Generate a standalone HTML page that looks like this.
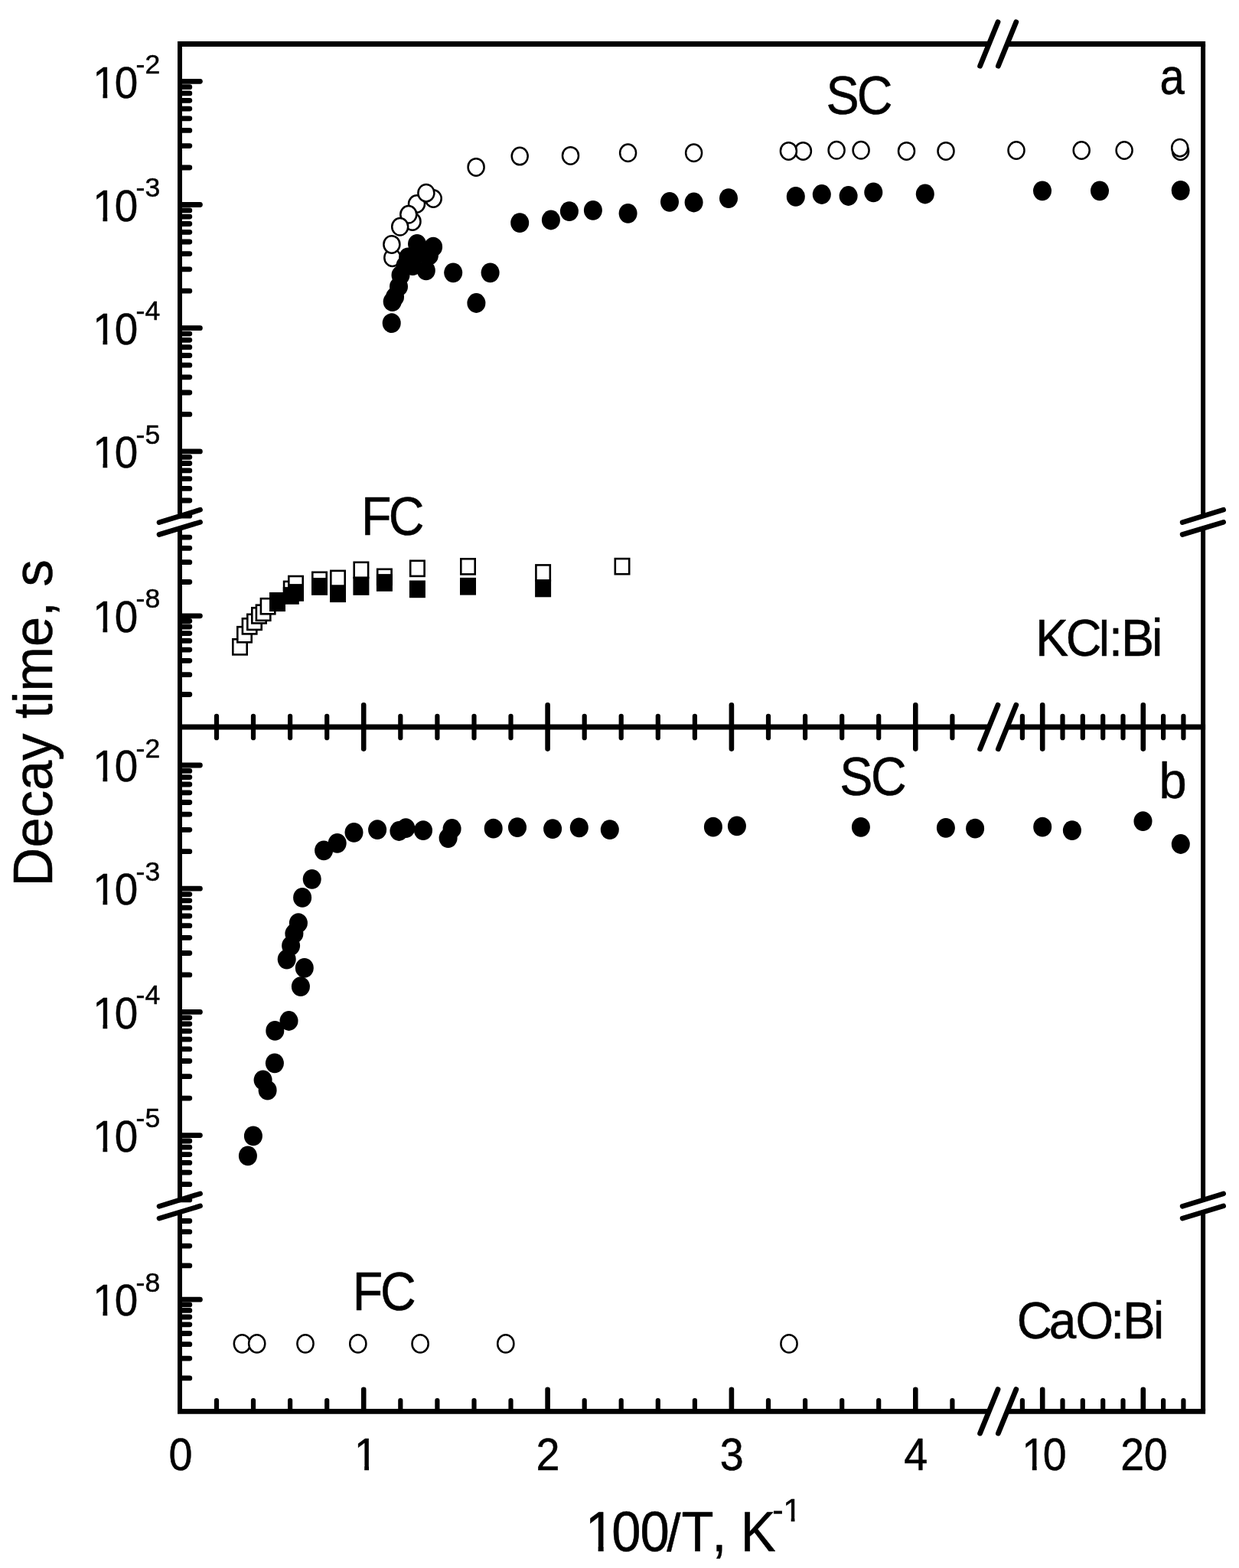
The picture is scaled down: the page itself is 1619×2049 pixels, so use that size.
<!DOCTYPE html>
<html lang="en">
<head>
<meta charset="utf-8">
<title>Decay time vs 100/T</title>
<style>
html,body{margin:0;padding:0;background:#fff;}
body{width:1619px;height:2049px;overflow:hidden;font-family:"Liberation Sans",Arial,sans-serif;}
svg{display:block;}
</style>
</head>
<body>
<svg width="1619" height="2049" viewBox="0 0 1619 2049" role="img" aria-label="Decay time versus 100/T for KCl:Bi and CaO:Bi">
<g fill="#000">
<g id="series-a-sc-open">
<ellipse cx="512.8" cy="336.7" rx="10.50" ry="11.25" fill="#fff" stroke="#000" stroke-width="2.5"/>
<ellipse cx="511.9" cy="319.4" rx="10.50" ry="11.25" fill="#fff" stroke="#000" stroke-width="2.5"/>
<ellipse cx="539.0" cy="289.4" rx="10.50" ry="11.25" fill="#fff" stroke="#000" stroke-width="2.5"/>
<ellipse cx="566.2" cy="259.5" rx="10.50" ry="11.25" fill="#fff" stroke="#000" stroke-width="2.5"/>
<ellipse cx="544.5" cy="266.5" rx="10.50" ry="11.25" fill="#fff" stroke="#000" stroke-width="2.5"/>
<ellipse cx="533.8" cy="280.3" rx="10.50" ry="11.25" fill="#fff" stroke="#000" stroke-width="2.5"/>
<ellipse cx="522.7" cy="296.3" rx="10.50" ry="11.25" fill="#fff" stroke="#000" stroke-width="2.5"/>
<ellipse cx="556.9" cy="252.2" rx="10.50" ry="11.25" fill="#fff" stroke="#000" stroke-width="2.5"/>
<ellipse cx="622.1" cy="218.4" rx="10.50" ry="11.25" fill="#fff" stroke="#000" stroke-width="2.5"/>
<ellipse cx="679.2" cy="204.1" rx="10.50" ry="11.25" fill="#fff" stroke="#000" stroke-width="2.5"/>
<ellipse cx="745.5" cy="203.4" rx="10.50" ry="11.25" fill="#fff" stroke="#000" stroke-width="2.5"/>
<ellipse cx="820.6" cy="199.8" rx="10.50" ry="11.25" fill="#fff" stroke="#000" stroke-width="2.5"/>
<ellipse cx="906.6" cy="199.8" rx="10.50" ry="11.25" fill="#fff" stroke="#000" stroke-width="2.5"/>
<ellipse cx="1049.4" cy="197.4" rx="10.50" ry="11.25" fill="#fff" stroke="#000" stroke-width="2.5"/>
<ellipse cx="1030.4" cy="197.4" rx="10.50" ry="11.25" fill="#fff" stroke="#000" stroke-width="2.5"/>
<ellipse cx="1093.1" cy="196.3" rx="10.50" ry="11.25" fill="#fff" stroke="#000" stroke-width="2.5"/>
<ellipse cx="1125.1" cy="196.3" rx="10.50" ry="11.25" fill="#fff" stroke="#000" stroke-width="2.5"/>
<ellipse cx="1184.5" cy="197.4" rx="10.50" ry="11.25" fill="#fff" stroke="#000" stroke-width="2.5"/>
<ellipse cx="1236.0" cy="197.4" rx="10.50" ry="11.25" fill="#fff" stroke="#000" stroke-width="2.5"/>
<ellipse cx="1328.0" cy="196.5" rx="10.50" ry="11.25" fill="#fff" stroke="#000" stroke-width="2.5"/>
<ellipse cx="1413.2" cy="196.5" rx="10.50" ry="11.25" fill="#fff" stroke="#000" stroke-width="2.5"/>
<ellipse cx="1469.1" cy="196.5" rx="10.50" ry="11.25" fill="#fff" stroke="#000" stroke-width="2.5"/>
<ellipse cx="1542.6" cy="197.7" rx="10.50" ry="11.25" fill="#fff" stroke="#000" stroke-width="2.5"/>
<ellipse cx="1541.7" cy="193.2" rx="10.50" ry="11.25" fill="#fff" stroke="#000" stroke-width="2.5"/>
</g>
<g id="series-a-sc-filled">
<ellipse cx="511.7" cy="422.2" rx="12.0" ry="12.9"/>
<ellipse cx="512.7" cy="394.2" rx="12.0" ry="12.9"/>
<ellipse cx="516.0" cy="388.0" rx="12.0" ry="12.9"/>
<ellipse cx="521.0" cy="374.5" rx="12.0" ry="12.9"/>
<ellipse cx="523.5" cy="359.6" rx="12.0" ry="12.9"/>
<ellipse cx="529.5" cy="347.0" rx="12.0" ry="12.9"/>
<ellipse cx="533.2" cy="336.3" rx="12.0" ry="12.9"/>
<ellipse cx="545.0" cy="318.8" rx="12.0" ry="12.9"/>
<ellipse cx="566.1" cy="322.7" rx="12.0" ry="12.9"/>
<ellipse cx="556.8" cy="353.4" rx="12.0" ry="12.9"/>
<ellipse cx="560.9" cy="333.7" rx="12.0" ry="12.9"/>
<ellipse cx="539.3" cy="347.2" rx="12.0" ry="12.9"/>
<ellipse cx="550.0" cy="330.0" rx="12.0" ry="12.9"/>
<ellipse cx="592.2" cy="356.3" rx="12.0" ry="12.9"/>
<ellipse cx="640.6" cy="356.3" rx="12.0" ry="12.9"/>
<ellipse cx="622.4" cy="396.0" rx="12.0" ry="12.9"/>
<ellipse cx="679.2" cy="291.1" rx="12.0" ry="12.9"/>
<ellipse cx="719.9" cy="287.5" rx="12.0" ry="12.9"/>
<ellipse cx="743.9" cy="276.1" rx="12.0" ry="12.9"/>
<ellipse cx="774.9" cy="274.8" rx="12.0" ry="12.9"/>
<ellipse cx="820.6" cy="278.8" rx="12.0" ry="12.9"/>
<ellipse cx="875.0" cy="263.8" rx="12.0" ry="12.9"/>
<ellipse cx="906.6" cy="264.5" rx="12.0" ry="12.9"/>
<ellipse cx="952.0" cy="259.1" rx="12.0" ry="12.9"/>
<ellipse cx="1039.8" cy="256.9" rx="12.0" ry="12.9"/>
<ellipse cx="1073.8" cy="254.0" rx="12.0" ry="12.9"/>
<ellipse cx="1108.6" cy="256.0" rx="12.0" ry="12.9"/>
<ellipse cx="1141.3" cy="251.4" rx="12.0" ry="12.9"/>
<ellipse cx="1208.8" cy="253.5" rx="12.0" ry="12.9"/>
<ellipse cx="1362.0" cy="249.3" rx="12.0" ry="12.9"/>
<ellipse cx="1437.0" cy="249.3" rx="12.0" ry="12.9"/>
<ellipse cx="1542.7" cy="248.8" rx="12.0" ry="12.9"/>
</g>
<g id="series-a-fc-open">
<rect x="304.3" y="835.3" width="18.4" height="20.1" fill="#fff" stroke="#000" stroke-width="2.6"/>
<rect x="310.3" y="819.2" width="18.4" height="20.1" fill="#fff" stroke="#000" stroke-width="2.6"/>
<rect x="316.9" y="808.3" width="18.4" height="20.1" fill="#fff" stroke="#000" stroke-width="2.6"/>
<rect x="323.3" y="802.8" width="18.4" height="20.1" fill="#fff" stroke="#000" stroke-width="2.6"/>
<rect x="329.3" y="794.3" width="18.4" height="20.1" fill="#fff" stroke="#000" stroke-width="2.6"/>
<rect x="334.9" y="790.7" width="18.4" height="20.1" fill="#fff" stroke="#000" stroke-width="2.6"/>
<rect x="340.9" y="782.2" width="18.4" height="20.1" fill="#fff" stroke="#000" stroke-width="2.6"/>
<rect x="371.1" y="759.9" width="18.4" height="20.1" fill="#fff" stroke="#000" stroke-width="2.6"/>
<rect x="377.3" y="753.0" width="18.4" height="20.1" fill="#fff" stroke="#000" stroke-width="2.6"/>
<rect x="408.3" y="747.8" width="18.4" height="20.1" fill="#fff" stroke="#000" stroke-width="2.6"/>
<rect x="432.3" y="745.9" width="18.4" height="20.1" fill="#fff" stroke="#000" stroke-width="2.6"/>
<rect x="462.7" y="734.8" width="18.4" height="20.1" fill="#fff" stroke="#000" stroke-width="2.6"/>
<rect x="493.2" y="743.8" width="18.4" height="20.1" fill="#fff" stroke="#000" stroke-width="2.6"/>
<rect x="536.2" y="732.8" width="18.4" height="20.1" fill="#fff" stroke="#000" stroke-width="2.6"/>
<rect x="602.3" y="730.3" width="18.4" height="20.1" fill="#fff" stroke="#000" stroke-width="2.6"/>
<rect x="700.4" y="738.4" width="18.4" height="20.1" fill="#fff" stroke="#000" stroke-width="2.6"/>
<rect x="803.8" y="730.1" width="18.4" height="20.1" fill="#fff" stroke="#000" stroke-width="2.6"/>
</g>
<g id="series-a-fc-filled">
<rect x="352.0" y="774.0" width="21.0" height="25.1"/>
<rect x="369.8" y="767.1" width="21.0" height="22.7"/>
<rect x="376.0" y="763.1" width="21.0" height="22.7"/>
<rect x="407.0" y="755.1" width="21.0" height="22.7"/>
<rect x="431.0" y="764.4" width="21.0" height="22.7"/>
<rect x="461.4" y="753.8" width="21.0" height="24.0"/>
<rect x="491.9" y="750.1" width="21.0" height="22.7"/>
<rect x="534.9" y="758.5" width="21.0" height="22.7"/>
<rect x="601.0" y="754.9" width="21.0" height="22.7"/>
<rect x="699.1" y="757.6" width="21.0" height="22.7"/>
</g>
<g id="series-b-sc-filled">
<ellipse cx="323.9" cy="1510.4" rx="12.0" ry="12.9"/>
<ellipse cx="330.9" cy="1484.4" rx="12.0" ry="12.9"/>
<ellipse cx="349.6" cy="1424.7" rx="12.0" ry="12.9"/>
<ellipse cx="343.6" cy="1411.3" rx="12.0" ry="12.9"/>
<ellipse cx="358.9" cy="1389.3" rx="12.0" ry="12.9"/>
<ellipse cx="359.3" cy="1346.9" rx="12.0" ry="12.9"/>
<ellipse cx="377.5" cy="1334.0" rx="12.0" ry="12.9"/>
<ellipse cx="392.9" cy="1289.2" rx="12.0" ry="12.9"/>
<ellipse cx="397.8" cy="1264.9" rx="12.0" ry="12.9"/>
<ellipse cx="374.7" cy="1253.6" rx="12.0" ry="12.9"/>
<ellipse cx="380.1" cy="1235.8" rx="12.0" ry="12.9"/>
<ellipse cx="384.4" cy="1220.0" rx="12.0" ry="12.9"/>
<ellipse cx="389.9" cy="1206.2" rx="12.0" ry="12.9"/>
<ellipse cx="395.1" cy="1172.9" rx="12.0" ry="12.9"/>
<ellipse cx="407.7" cy="1148.8" rx="12.0" ry="12.9"/>
<ellipse cx="423.1" cy="1111.3" rx="12.0" ry="12.9"/>
<ellipse cx="440.7" cy="1101.8" rx="12.0" ry="12.9"/>
<ellipse cx="462.5" cy="1087.8" rx="12.0" ry="12.9"/>
<ellipse cx="493.1" cy="1084.2" rx="12.0" ry="12.9"/>
<ellipse cx="521.4" cy="1086.0" rx="12.0" ry="12.9"/>
<ellipse cx="530.3" cy="1082.2" rx="12.0" ry="12.9"/>
<ellipse cx="553.0" cy="1085.2" rx="12.0" ry="12.9"/>
<ellipse cx="585.6" cy="1095.1" rx="12.0" ry="12.9"/>
<ellipse cx="590.6" cy="1083.0" rx="12.0" ry="12.9"/>
<ellipse cx="644.7" cy="1082.7" rx="12.0" ry="12.9"/>
<ellipse cx="676.0" cy="1081.1" rx="12.0" ry="12.9"/>
<ellipse cx="722.1" cy="1083.1" rx="12.0" ry="12.9"/>
<ellipse cx="756.8" cy="1081.4" rx="12.0" ry="12.9"/>
<ellipse cx="796.8" cy="1084.1" rx="12.0" ry="12.9"/>
<ellipse cx="931.9" cy="1080.7" rx="12.0" ry="12.9"/>
<ellipse cx="962.9" cy="1079.4" rx="12.0" ry="12.9"/>
<ellipse cx="1124.9" cy="1080.8" rx="12.0" ry="12.9"/>
<ellipse cx="1235.9" cy="1081.8" rx="12.0" ry="12.9"/>
<ellipse cx="1274.1" cy="1082.7" rx="12.0" ry="12.9"/>
<ellipse cx="1362.2" cy="1080.7" rx="12.0" ry="12.9"/>
<ellipse cx="1400.9" cy="1085.1" rx="12.0" ry="12.9"/>
<ellipse cx="1493.5" cy="1073.2" rx="12.0" ry="12.9"/>
<ellipse cx="1542.8" cy="1103.0" rx="12.0" ry="12.9"/>
</g>
<g id="series-b-fc-open">
<ellipse cx="316.4" cy="1755.8" rx="10.60" ry="11.65" fill="#fff" stroke="#000" stroke-width="2.5"/>
<ellipse cx="335.7" cy="1755.8" rx="10.60" ry="11.65" fill="#fff" stroke="#000" stroke-width="2.5"/>
<ellipse cx="399.0" cy="1755.8" rx="10.60" ry="11.65" fill="#fff" stroke="#000" stroke-width="2.5"/>
<ellipse cx="467.8" cy="1755.9" rx="10.60" ry="11.65" fill="#fff" stroke="#000" stroke-width="2.5"/>
<ellipse cx="549.1" cy="1755.9" rx="10.60" ry="11.65" fill="#fff" stroke="#000" stroke-width="2.5"/>
<ellipse cx="660.8" cy="1755.9" rx="10.60" ry="11.65" fill="#fff" stroke="#000" stroke-width="2.5"/>
<ellipse cx="1031.0" cy="1755.9" rx="10.60" ry="11.65" fill="#fff" stroke="#000" stroke-width="2.5"/>
</g>
<g id="axes" stroke="#000" fill="none">
<line x1="232.0" y1="57.5" x2="1292.2" y2="57.5" stroke-width="6.8"/>
<line x1="1316.2" y1="57.5" x2="1575.1" y2="57.5" stroke-width="6.8"/>
<line x1="232.0" y1="950.0" x2="1292.2" y2="950.0" stroke-width="6.8"/>
<line x1="1316.2" y1="950.0" x2="1575.1" y2="950.0" stroke-width="6.8"/>
<line x1="232.0" y1="1844.3" x2="1292.2" y2="1844.3" stroke-width="6.8"/>
<line x1="1316.2" y1="1844.3" x2="1575.1" y2="1844.3" stroke-width="6.8"/>
<line x1="235.0" y1="57.5" x2="235.0" y2="674.4" stroke-width="6.0"/>
<line x1="235.0" y1="690.4" x2="235.0" y2="950.0" stroke-width="6.0"/>
<line x1="1572.1" y1="57.5" x2="1572.1" y2="674.4" stroke-width="6.0"/>
<line x1="1572.1" y1="690.4" x2="1572.1" y2="950.0" stroke-width="6.0"/>
<line x1="235.0" y1="950.0" x2="235.0" y2="1568.0" stroke-width="6.0"/>
<line x1="235.0" y1="1584.0" x2="235.0" y2="1844.3" stroke-width="6.0"/>
<line x1="1572.1" y1="950.0" x2="1572.1" y2="1568.0" stroke-width="6.0"/>
<line x1="1572.1" y1="1584.0" x2="1572.1" y2="1844.3" stroke-width="6.0"/>
<line x1="1280.6" y1="86.2" x2="1304.0" y2="28.8" stroke-width="6.8" stroke-linecap="round"/>
<line x1="1304.4" y1="86.2" x2="1327.8" y2="28.8" stroke-width="6.8" stroke-linecap="round"/>
<line x1="1280.6" y1="978.7" x2="1304.0" y2="921.3" stroke-width="6.8" stroke-linecap="round"/>
<line x1="1304.4" y1="978.7" x2="1327.8" y2="921.3" stroke-width="6.8" stroke-linecap="round"/>
<line x1="1280.6" y1="1873.0" x2="1304.0" y2="1815.6" stroke-width="6.8" stroke-linecap="round"/>
<line x1="1304.4" y1="1873.0" x2="1327.8" y2="1815.6" stroke-width="6.8" stroke-linecap="round"/>
<line x1="208.0" y1="682.7" x2="261.6" y2="666.2" stroke-width="6.6" stroke-linecap="round"/>
<line x1="208.0" y1="698.5" x2="261.6" y2="682.3" stroke-width="6.6" stroke-linecap="round"/>
<line x1="1545.1" y1="682.7" x2="1598.7" y2="666.2" stroke-width="6.6" stroke-linecap="round"/>
<line x1="1545.1" y1="698.5" x2="1598.7" y2="682.3" stroke-width="6.6" stroke-linecap="round"/>
<line x1="208.0" y1="1576.3" x2="261.6" y2="1559.8" stroke-width="6.6" stroke-linecap="round"/>
<line x1="208.0" y1="1592.1" x2="261.6" y2="1575.9" stroke-width="6.6" stroke-linecap="round"/>
<line x1="1545.1" y1="1576.3" x2="1598.7" y2="1559.8" stroke-width="6.6" stroke-linecap="round"/>
<line x1="1545.1" y1="1592.1" x2="1598.7" y2="1575.9" stroke-width="6.6" stroke-linecap="round"/>
</g>
<g id="ticks" stroke="#000" stroke-linecap="round">
<line x1="235.6" y1="106.3" x2="261.4" y2="106.3" stroke-width="6.8" stroke-linecap="inherit"/>
<line x1="235.6" y1="267.5" x2="261.4" y2="267.5" stroke-width="6.8" stroke-linecap="inherit"/>
<line x1="235.6" y1="219.0" x2="247.8" y2="219.0" stroke-width="6.8" stroke-linecap="inherit"/>
<line x1="235.6" y1="190.6" x2="247.8" y2="190.6" stroke-width="6.8" stroke-linecap="inherit"/>
<line x1="235.6" y1="170.4" x2="247.8" y2="170.4" stroke-width="6.8" stroke-linecap="inherit"/>
<line x1="235.6" y1="154.8" x2="247.8" y2="154.8" stroke-width="6.8" stroke-linecap="inherit"/>
<line x1="235.6" y1="142.1" x2="247.8" y2="142.1" stroke-width="6.8" stroke-linecap="inherit"/>
<line x1="235.6" y1="131.3" x2="247.8" y2="131.3" stroke-width="6.8" stroke-linecap="inherit"/>
<line x1="235.6" y1="121.9" x2="247.8" y2="121.9" stroke-width="6.8" stroke-linecap="inherit"/>
<line x1="235.6" y1="113.7" x2="247.8" y2="113.7" stroke-width="6.8" stroke-linecap="inherit"/>
<line x1="235.6" y1="428.7" x2="261.4" y2="428.7" stroke-width="6.8" stroke-linecap="inherit"/>
<line x1="235.6" y1="380.2" x2="247.8" y2="380.2" stroke-width="6.8" stroke-linecap="inherit"/>
<line x1="235.6" y1="351.8" x2="247.8" y2="351.8" stroke-width="6.8" stroke-linecap="inherit"/>
<line x1="235.6" y1="331.6" x2="247.8" y2="331.6" stroke-width="6.8" stroke-linecap="inherit"/>
<line x1="235.6" y1="316.0" x2="247.8" y2="316.0" stroke-width="6.8" stroke-linecap="inherit"/>
<line x1="235.6" y1="303.3" x2="247.8" y2="303.3" stroke-width="6.8" stroke-linecap="inherit"/>
<line x1="235.6" y1="292.5" x2="247.8" y2="292.5" stroke-width="6.8" stroke-linecap="inherit"/>
<line x1="235.6" y1="283.1" x2="247.8" y2="283.1" stroke-width="6.8" stroke-linecap="inherit"/>
<line x1="235.6" y1="274.9" x2="247.8" y2="274.9" stroke-width="6.8" stroke-linecap="inherit"/>
<line x1="235.6" y1="589.9" x2="261.4" y2="589.9" stroke-width="6.8" stroke-linecap="inherit"/>
<line x1="235.6" y1="541.4" x2="247.8" y2="541.4" stroke-width="6.8" stroke-linecap="inherit"/>
<line x1="235.6" y1="513.0" x2="247.8" y2="513.0" stroke-width="6.8" stroke-linecap="inherit"/>
<line x1="235.6" y1="492.8" x2="247.8" y2="492.8" stroke-width="6.8" stroke-linecap="inherit"/>
<line x1="235.6" y1="477.2" x2="247.8" y2="477.2" stroke-width="6.8" stroke-linecap="inherit"/>
<line x1="235.6" y1="464.5" x2="247.8" y2="464.5" stroke-width="6.8" stroke-linecap="inherit"/>
<line x1="235.6" y1="453.7" x2="247.8" y2="453.7" stroke-width="6.8" stroke-linecap="inherit"/>
<line x1="235.6" y1="444.3" x2="247.8" y2="444.3" stroke-width="6.8" stroke-linecap="inherit"/>
<line x1="235.6" y1="436.1" x2="247.8" y2="436.1" stroke-width="6.8" stroke-linecap="inherit"/>
<line x1="235.6" y1="674.2" x2="247.8" y2="674.2" stroke-width="6.8" stroke-linecap="inherit"/>
<line x1="235.6" y1="654.0" x2="247.8" y2="654.0" stroke-width="6.8" stroke-linecap="inherit"/>
<line x1="235.6" y1="638.4" x2="247.8" y2="638.4" stroke-width="6.8" stroke-linecap="inherit"/>
<line x1="235.6" y1="625.7" x2="247.8" y2="625.7" stroke-width="6.8" stroke-linecap="inherit"/>
<line x1="235.6" y1="614.9" x2="247.8" y2="614.9" stroke-width="6.8" stroke-linecap="inherit"/>
<line x1="235.6" y1="605.5" x2="247.8" y2="605.5" stroke-width="6.8" stroke-linecap="inherit"/>
<line x1="235.6" y1="597.3" x2="247.8" y2="597.3" stroke-width="6.8" stroke-linecap="inherit"/>
<line x1="235.6" y1="804.8" x2="261.4" y2="804.8" stroke-width="6.8" stroke-linecap="inherit"/>
<line x1="235.6" y1="760.5" x2="247.8" y2="760.5" stroke-width="6.8" stroke-linecap="inherit"/>
<line x1="235.6" y1="734.7" x2="247.8" y2="734.7" stroke-width="6.8" stroke-linecap="inherit"/>
<line x1="235.6" y1="716.3" x2="247.8" y2="716.3" stroke-width="6.8" stroke-linecap="inherit"/>
<line x1="235.6" y1="702.1" x2="247.8" y2="702.1" stroke-width="6.8" stroke-linecap="inherit"/>
<line x1="235.6" y1="907.5" x2="247.8" y2="907.5" stroke-width="6.8" stroke-linecap="inherit"/>
<line x1="235.6" y1="881.7" x2="247.8" y2="881.7" stroke-width="6.8" stroke-linecap="inherit"/>
<line x1="235.6" y1="863.3" x2="247.8" y2="863.3" stroke-width="6.8" stroke-linecap="inherit"/>
<line x1="235.6" y1="849.1" x2="247.8" y2="849.1" stroke-width="6.8" stroke-linecap="inherit"/>
<line x1="235.6" y1="837.4" x2="247.8" y2="837.4" stroke-width="6.8" stroke-linecap="inherit"/>
<line x1="235.6" y1="827.6" x2="247.8" y2="827.6" stroke-width="6.8" stroke-linecap="inherit"/>
<line x1="235.6" y1="819.0" x2="247.8" y2="819.0" stroke-width="6.8" stroke-linecap="inherit"/>
<line x1="235.6" y1="811.5" x2="247.8" y2="811.5" stroke-width="6.8" stroke-linecap="inherit"/>
<line x1="235.6" y1="1000.0" x2="261.4" y2="1000.0" stroke-width="6.8" stroke-linecap="inherit"/>
<line x1="235.6" y1="1161.2" x2="261.4" y2="1161.2" stroke-width="6.8" stroke-linecap="inherit"/>
<line x1="235.6" y1="1112.7" x2="247.8" y2="1112.7" stroke-width="6.8" stroke-linecap="inherit"/>
<line x1="235.6" y1="1084.3" x2="247.8" y2="1084.3" stroke-width="6.8" stroke-linecap="inherit"/>
<line x1="235.6" y1="1064.1" x2="247.8" y2="1064.1" stroke-width="6.8" stroke-linecap="inherit"/>
<line x1="235.6" y1="1048.5" x2="247.8" y2="1048.5" stroke-width="6.8" stroke-linecap="inherit"/>
<line x1="235.6" y1="1035.8" x2="247.8" y2="1035.8" stroke-width="6.8" stroke-linecap="inherit"/>
<line x1="235.6" y1="1025.0" x2="247.8" y2="1025.0" stroke-width="6.8" stroke-linecap="inherit"/>
<line x1="235.6" y1="1015.6" x2="247.8" y2="1015.6" stroke-width="6.8" stroke-linecap="inherit"/>
<line x1="235.6" y1="1007.4" x2="247.8" y2="1007.4" stroke-width="6.8" stroke-linecap="inherit"/>
<line x1="235.6" y1="1322.4" x2="261.4" y2="1322.4" stroke-width="6.8" stroke-linecap="inherit"/>
<line x1="235.6" y1="1273.9" x2="247.8" y2="1273.9" stroke-width="6.8" stroke-linecap="inherit"/>
<line x1="235.6" y1="1245.5" x2="247.8" y2="1245.5" stroke-width="6.8" stroke-linecap="inherit"/>
<line x1="235.6" y1="1225.3" x2="247.8" y2="1225.3" stroke-width="6.8" stroke-linecap="inherit"/>
<line x1="235.6" y1="1209.7" x2="247.8" y2="1209.7" stroke-width="6.8" stroke-linecap="inherit"/>
<line x1="235.6" y1="1197.0" x2="247.8" y2="1197.0" stroke-width="6.8" stroke-linecap="inherit"/>
<line x1="235.6" y1="1186.2" x2="247.8" y2="1186.2" stroke-width="6.8" stroke-linecap="inherit"/>
<line x1="235.6" y1="1176.8" x2="247.8" y2="1176.8" stroke-width="6.8" stroke-linecap="inherit"/>
<line x1="235.6" y1="1168.6" x2="247.8" y2="1168.6" stroke-width="6.8" stroke-linecap="inherit"/>
<line x1="235.6" y1="1483.6" x2="261.4" y2="1483.6" stroke-width="6.8" stroke-linecap="inherit"/>
<line x1="235.6" y1="1435.1" x2="247.8" y2="1435.1" stroke-width="6.8" stroke-linecap="inherit"/>
<line x1="235.6" y1="1406.7" x2="247.8" y2="1406.7" stroke-width="6.8" stroke-linecap="inherit"/>
<line x1="235.6" y1="1386.5" x2="247.8" y2="1386.5" stroke-width="6.8" stroke-linecap="inherit"/>
<line x1="235.6" y1="1370.9" x2="247.8" y2="1370.9" stroke-width="6.8" stroke-linecap="inherit"/>
<line x1="235.6" y1="1358.2" x2="247.8" y2="1358.2" stroke-width="6.8" stroke-linecap="inherit"/>
<line x1="235.6" y1="1347.4" x2="247.8" y2="1347.4" stroke-width="6.8" stroke-linecap="inherit"/>
<line x1="235.6" y1="1338.0" x2="247.8" y2="1338.0" stroke-width="6.8" stroke-linecap="inherit"/>
<line x1="235.6" y1="1329.8" x2="247.8" y2="1329.8" stroke-width="6.8" stroke-linecap="inherit"/>
<line x1="235.6" y1="1567.9" x2="247.8" y2="1567.9" stroke-width="6.8" stroke-linecap="inherit"/>
<line x1="235.6" y1="1547.7" x2="247.8" y2="1547.7" stroke-width="6.8" stroke-linecap="inherit"/>
<line x1="235.6" y1="1532.1" x2="247.8" y2="1532.1" stroke-width="6.8" stroke-linecap="inherit"/>
<line x1="235.6" y1="1519.4" x2="247.8" y2="1519.4" stroke-width="6.8" stroke-linecap="inherit"/>
<line x1="235.6" y1="1508.6" x2="247.8" y2="1508.6" stroke-width="6.8" stroke-linecap="inherit"/>
<line x1="235.6" y1="1499.2" x2="247.8" y2="1499.2" stroke-width="6.8" stroke-linecap="inherit"/>
<line x1="235.6" y1="1491.0" x2="247.8" y2="1491.0" stroke-width="6.8" stroke-linecap="inherit"/>
<line x1="235.6" y1="1698.2" x2="261.4" y2="1698.2" stroke-width="6.8" stroke-linecap="inherit"/>
<line x1="235.6" y1="1653.9" x2="247.8" y2="1653.9" stroke-width="6.8" stroke-linecap="inherit"/>
<line x1="235.6" y1="1628.1" x2="247.8" y2="1628.1" stroke-width="6.8" stroke-linecap="inherit"/>
<line x1="235.6" y1="1609.7" x2="247.8" y2="1609.7" stroke-width="6.8" stroke-linecap="inherit"/>
<line x1="235.6" y1="1595.5" x2="247.8" y2="1595.5" stroke-width="6.8" stroke-linecap="inherit"/>
<line x1="235.6" y1="1800.9" x2="247.8" y2="1800.9" stroke-width="6.8" stroke-linecap="inherit"/>
<line x1="235.6" y1="1775.1" x2="247.8" y2="1775.1" stroke-width="6.8" stroke-linecap="inherit"/>
<line x1="235.6" y1="1756.7" x2="247.8" y2="1756.7" stroke-width="6.8" stroke-linecap="inherit"/>
<line x1="235.6" y1="1742.5" x2="247.8" y2="1742.5" stroke-width="6.8" stroke-linecap="inherit"/>
<line x1="235.6" y1="1730.8" x2="247.8" y2="1730.8" stroke-width="6.8" stroke-linecap="inherit"/>
<line x1="235.6" y1="1721.0" x2="247.8" y2="1721.0" stroke-width="6.8" stroke-linecap="inherit"/>
<line x1="235.6" y1="1712.4" x2="247.8" y2="1712.4" stroke-width="6.8" stroke-linecap="inherit"/>
<line x1="235.6" y1="1704.9" x2="247.8" y2="1704.9" stroke-width="6.8" stroke-linecap="inherit"/>
<line x1="283.0" y1="935.8" x2="283.0" y2="964.2" stroke-width="6.2" stroke-linecap="inherit"/>
<line x1="331.0" y1="935.8" x2="331.0" y2="964.2" stroke-width="6.2" stroke-linecap="inherit"/>
<line x1="379.1" y1="935.8" x2="379.1" y2="964.2" stroke-width="6.2" stroke-linecap="inherit"/>
<line x1="427.2" y1="935.8" x2="427.2" y2="964.2" stroke-width="6.2" stroke-linecap="inherit"/>
<line x1="475.2" y1="921.4" x2="475.2" y2="978.6" stroke-width="6.6" stroke-linecap="inherit"/>
<line x1="523.3" y1="935.8" x2="523.3" y2="964.2" stroke-width="6.2" stroke-linecap="inherit"/>
<line x1="571.4" y1="935.8" x2="571.4" y2="964.2" stroke-width="6.2" stroke-linecap="inherit"/>
<line x1="619.5" y1="935.8" x2="619.5" y2="964.2" stroke-width="6.2" stroke-linecap="inherit"/>
<line x1="667.5" y1="935.8" x2="667.5" y2="964.2" stroke-width="6.2" stroke-linecap="inherit"/>
<line x1="715.6" y1="921.4" x2="715.6" y2="978.6" stroke-width="6.6" stroke-linecap="inherit"/>
<line x1="763.7" y1="935.8" x2="763.7" y2="964.2" stroke-width="6.2" stroke-linecap="inherit"/>
<line x1="811.7" y1="935.8" x2="811.7" y2="964.2" stroke-width="6.2" stroke-linecap="inherit"/>
<line x1="859.8" y1="935.8" x2="859.8" y2="964.2" stroke-width="6.2" stroke-linecap="inherit"/>
<line x1="907.9" y1="935.8" x2="907.9" y2="964.2" stroke-width="6.2" stroke-linecap="inherit"/>
<line x1="955.9" y1="921.4" x2="955.9" y2="978.6" stroke-width="6.6" stroke-linecap="inherit"/>
<line x1="1004.0" y1="935.8" x2="1004.0" y2="964.2" stroke-width="6.2" stroke-linecap="inherit"/>
<line x1="1052.1" y1="935.8" x2="1052.1" y2="964.2" stroke-width="6.2" stroke-linecap="inherit"/>
<line x1="1100.2" y1="935.8" x2="1100.2" y2="964.2" stroke-width="6.2" stroke-linecap="inherit"/>
<line x1="1148.2" y1="935.8" x2="1148.2" y2="964.2" stroke-width="6.2" stroke-linecap="inherit"/>
<line x1="1196.3" y1="921.4" x2="1196.3" y2="978.6" stroke-width="6.6" stroke-linecap="inherit"/>
<line x1="1244.4" y1="935.8" x2="1244.4" y2="964.2" stroke-width="6.2" stroke-linecap="inherit"/>
<line x1="1335.9" y1="935.8" x2="1335.9" y2="964.2" stroke-width="6.2" stroke-linecap="inherit"/>
<line x1="1362.2" y1="921.4" x2="1362.2" y2="978.6" stroke-width="6.6" stroke-linecap="inherit"/>
<line x1="1388.5" y1="935.8" x2="1388.5" y2="964.2" stroke-width="6.2" stroke-linecap="inherit"/>
<line x1="1414.8" y1="935.8" x2="1414.8" y2="964.2" stroke-width="6.2" stroke-linecap="inherit"/>
<line x1="1441.2" y1="935.8" x2="1441.2" y2="964.2" stroke-width="6.2" stroke-linecap="inherit"/>
<line x1="1467.5" y1="935.8" x2="1467.5" y2="964.2" stroke-width="6.2" stroke-linecap="inherit"/>
<line x1="1493.8" y1="921.4" x2="1493.8" y2="978.6" stroke-width="6.6" stroke-linecap="inherit"/>
<line x1="1520.1" y1="935.8" x2="1520.1" y2="964.2" stroke-width="6.2" stroke-linecap="inherit"/>
<line x1="1546.4" y1="935.8" x2="1546.4" y2="964.2" stroke-width="6.2" stroke-linecap="inherit"/>
<line x1="283.0" y1="1830.1" x2="283.0" y2="1843.7" stroke-width="6.2" stroke-linecap="inherit"/>
<line x1="331.0" y1="1830.1" x2="331.0" y2="1843.7" stroke-width="6.2" stroke-linecap="inherit"/>
<line x1="379.1" y1="1830.1" x2="379.1" y2="1843.7" stroke-width="6.2" stroke-linecap="inherit"/>
<line x1="427.2" y1="1830.1" x2="427.2" y2="1843.7" stroke-width="6.2" stroke-linecap="inherit"/>
<line x1="475.2" y1="1815.7" x2="475.2" y2="1843.7" stroke-width="6.6" stroke-linecap="inherit"/>
<line x1="523.3" y1="1830.1" x2="523.3" y2="1843.7" stroke-width="6.2" stroke-linecap="inherit"/>
<line x1="571.4" y1="1830.1" x2="571.4" y2="1843.7" stroke-width="6.2" stroke-linecap="inherit"/>
<line x1="619.5" y1="1830.1" x2="619.5" y2="1843.7" stroke-width="6.2" stroke-linecap="inherit"/>
<line x1="667.5" y1="1830.1" x2="667.5" y2="1843.7" stroke-width="6.2" stroke-linecap="inherit"/>
<line x1="715.6" y1="1815.7" x2="715.6" y2="1843.7" stroke-width="6.6" stroke-linecap="inherit"/>
<line x1="763.7" y1="1830.1" x2="763.7" y2="1843.7" stroke-width="6.2" stroke-linecap="inherit"/>
<line x1="811.7" y1="1830.1" x2="811.7" y2="1843.7" stroke-width="6.2" stroke-linecap="inherit"/>
<line x1="859.8" y1="1830.1" x2="859.8" y2="1843.7" stroke-width="6.2" stroke-linecap="inherit"/>
<line x1="907.9" y1="1830.1" x2="907.9" y2="1843.7" stroke-width="6.2" stroke-linecap="inherit"/>
<line x1="955.9" y1="1815.7" x2="955.9" y2="1843.7" stroke-width="6.6" stroke-linecap="inherit"/>
<line x1="1004.0" y1="1830.1" x2="1004.0" y2="1843.7" stroke-width="6.2" stroke-linecap="inherit"/>
<line x1="1052.1" y1="1830.1" x2="1052.1" y2="1843.7" stroke-width="6.2" stroke-linecap="inherit"/>
<line x1="1100.2" y1="1830.1" x2="1100.2" y2="1843.7" stroke-width="6.2" stroke-linecap="inherit"/>
<line x1="1148.2" y1="1830.1" x2="1148.2" y2="1843.7" stroke-width="6.2" stroke-linecap="inherit"/>
<line x1="1196.3" y1="1815.7" x2="1196.3" y2="1843.7" stroke-width="6.6" stroke-linecap="inherit"/>
<line x1="1244.4" y1="1830.1" x2="1244.4" y2="1843.7" stroke-width="6.2" stroke-linecap="inherit"/>
<line x1="1335.9" y1="1830.1" x2="1335.9" y2="1843.7" stroke-width="6.2" stroke-linecap="inherit"/>
<line x1="1362.2" y1="1815.7" x2="1362.2" y2="1843.7" stroke-width="6.6" stroke-linecap="inherit"/>
<line x1="1388.5" y1="1830.1" x2="1388.5" y2="1843.7" stroke-width="6.2" stroke-linecap="inherit"/>
<line x1="1414.8" y1="1830.1" x2="1414.8" y2="1843.7" stroke-width="6.2" stroke-linecap="inherit"/>
<line x1="1441.2" y1="1830.1" x2="1441.2" y2="1843.7" stroke-width="6.2" stroke-linecap="inherit"/>
<line x1="1467.5" y1="1830.1" x2="1467.5" y2="1843.7" stroke-width="6.2" stroke-linecap="inherit"/>
<line x1="1493.8" y1="1815.7" x2="1493.8" y2="1843.7" stroke-width="6.6" stroke-linecap="inherit"/>
<line x1="1520.1" y1="1830.1" x2="1520.1" y2="1843.7" stroke-width="6.2" stroke-linecap="inherit"/>
<line x1="1546.4" y1="1830.1" x2="1546.4" y2="1843.7" stroke-width="6.2" stroke-linecap="inherit"/>
</g>
<g id="labels" font-family="'Liberation Sans', Arial, Helvetica, sans-serif" stroke="#000" stroke-width="0.5" stroke-linejoin="round">
<clipPath id="k1"><path clip-rule="evenodd" d="M-50,-116.0H1763.2V58.0H-50ZM129.96,-5.68H142.32V3.00H129.96ZM148.39,-5.68H158.96V3.00H148.39Z"/></clipPath>
<text transform="translate(0 127.50) scale(0.9450 1)" x="128.22 158.44" font-size="58.00" clip-path="url(#k1)">10</text>
<text transform="translate(177.60 95.90)" font-size="35.50">-2</text>
<clipPath id="k2"><path clip-rule="evenodd" d="M-50,-116.0H1763.2V58.0H-50ZM129.96,-5.68H142.32V3.00H129.96ZM148.39,-5.68H158.96V3.00H148.39Z"/></clipPath>
<text transform="translate(0 288.70) scale(0.9450 1)" x="128.22 158.44" font-size="58.00" clip-path="url(#k2)">10</text>
<text transform="translate(177.60 257.10)" font-size="35.50">-3</text>
<clipPath id="k3"><path clip-rule="evenodd" d="M-50,-116.0H1763.2V58.0H-50ZM129.96,-5.68H142.32V3.00H129.96ZM148.39,-5.68H158.96V3.00H148.39Z"/></clipPath>
<text transform="translate(0 449.90) scale(0.9450 1)" x="128.22 158.44" font-size="58.00" clip-path="url(#k3)">10</text>
<text transform="translate(177.60 418.30)" font-size="35.50">-4</text>
<clipPath id="k4"><path clip-rule="evenodd" d="M-50,-116.0H1763.2V58.0H-50ZM129.96,-5.68H142.32V3.00H129.96ZM148.39,-5.68H158.96V3.00H148.39Z"/></clipPath>
<text transform="translate(0 611.10) scale(0.9450 1)" x="128.22 158.44" font-size="58.00" clip-path="url(#k4)">10</text>
<text transform="translate(177.60 579.50)" font-size="35.50">-5</text>
<clipPath id="k5"><path clip-rule="evenodd" d="M-50,-116.0H1763.2V58.0H-50ZM129.96,-5.68H142.32V3.00H129.96ZM148.39,-5.68H158.96V3.00H148.39Z"/></clipPath>
<text transform="translate(0 826.00) scale(0.9450 1)" x="128.22 158.44" font-size="58.00" clip-path="url(#k5)">10</text>
<text transform="translate(177.60 794.40)" font-size="35.50">-8</text>
<clipPath id="k6"><path clip-rule="evenodd" d="M-50,-116.0H1763.2V58.0H-50ZM129.96,-5.68H142.32V3.00H129.96ZM148.39,-5.68H158.96V3.00H148.39Z"/></clipPath>
<text transform="translate(0 1021.20) scale(0.9450 1)" x="128.22 158.44" font-size="58.00" clip-path="url(#k6)">10</text>
<text transform="translate(177.60 989.60)" font-size="35.50">-2</text>
<clipPath id="k7"><path clip-rule="evenodd" d="M-50,-116.0H1763.2V58.0H-50ZM129.96,-5.68H142.32V3.00H129.96ZM148.39,-5.68H158.96V3.00H148.39Z"/></clipPath>
<text transform="translate(0 1182.40) scale(0.9450 1)" x="128.22 158.44" font-size="58.00" clip-path="url(#k7)">10</text>
<text transform="translate(177.60 1150.80)" font-size="35.50">-3</text>
<clipPath id="k8"><path clip-rule="evenodd" d="M-50,-116.0H1763.2V58.0H-50ZM129.96,-5.68H142.32V3.00H129.96ZM148.39,-5.68H158.96V3.00H148.39Z"/></clipPath>
<text transform="translate(0 1343.60) scale(0.9450 1)" x="128.22 158.44" font-size="58.00" clip-path="url(#k8)">10</text>
<text transform="translate(177.60 1312.00)" font-size="35.50">-4</text>
<clipPath id="k9"><path clip-rule="evenodd" d="M-50,-116.0H1763.2V58.0H-50ZM129.96,-5.68H142.32V3.00H129.96ZM148.39,-5.68H158.96V3.00H148.39Z"/></clipPath>
<text transform="translate(0 1504.80) scale(0.9450 1)" x="128.22 158.44" font-size="58.00" clip-path="url(#k9)">10</text>
<text transform="translate(177.60 1473.20)" font-size="35.50">-5</text>
<clipPath id="k10"><path clip-rule="evenodd" d="M-50,-116.0H1763.2V58.0H-50ZM129.96,-5.68H142.32V3.00H129.96ZM148.39,-5.68H158.96V3.00H148.39Z"/></clipPath>
<text transform="translate(0 1719.40) scale(0.9450 1)" x="128.22 158.44" font-size="58.00" clip-path="url(#k10)">10</text>
<text transform="translate(177.60 1687.80)" font-size="35.50">-8</text>
<text transform="translate(220.49 1920.60) scale(0.9500 1)" font-size="58.70">0</text>
<text transform="translate(700.49 1920.60) scale(0.9500 1)" font-size="58.70">2</text>
<text transform="translate(940.84 1920.60) scale(0.9500 1)" font-size="58.70">3</text>
<text transform="translate(1181.19 1920.60) scale(0.9500 1)" font-size="58.70">4</text>
<clipPath id="k11"><path clip-rule="evenodd" d="M-50,-117.4H1754.2V58.7H-50ZM488.75,-5.73H501.27V3.00H488.75ZM507.40,-5.73H518.10V3.00H507.40Z"/></clipPath>
<text transform="translate(0 1920.60) scale(0.9500 1)" x="486.99" font-size="58.70" clip-path="url(#k11)">1</text>
<clipPath id="k12"><path clip-rule="evenodd" d="M-50,-117.4H1763.2V58.7H-50ZM1414.82,-5.73H1427.34V3.00H1414.82ZM1433.47,-5.73H1444.17V3.00H1433.47Z"/></clipPath>
<text transform="translate(0 1920.60) scale(0.9450 1)" x="1413.06 1441.94" font-size="58.70" clip-path="url(#k12)">10</text>
<text transform="translate(0 1920.60) scale(0.9450 1)" x="1549.43 1581.63" font-size="58.70">20</text>
<text transform="translate(0 148.50) scale(0.9300 1)" x="1160.78 1204.08" font-size="69.50">SC</text>
<text transform="translate(1515.40 122.80) scale(0.8620 1)" font-size="67.50">a</text>
<text transform="translate(0 698.60) scale(0.9300 1)" x="507.43 546.07" font-size="69.50">FC</text>
<clipPath id="k13"><path clip-rule="evenodd" d="M-50,-137.6H1772.3V68.8H-50ZM1530.15,-103.20H1540.17V-47.55H1530.15Z"/></clipPath>
<text transform="translate(0 857.20) scale(0.9400 1)" x="1439.26 1481.74 1527.51 1541.52 1558.40 1601.07" font-size="68.80" clip-path="url(#k13)">KCl:Bi</text>
<text transform="translate(0 1038.50) scale(0.9300 1)" x="1179.92 1223.60" font-size="69.50">SC</text>
<text transform="translate(1514.60 1043.40) scale(0.9850 1)" font-size="66.00">b</text>
<text transform="translate(0 1711.60) scale(0.9300 1)" x="495.50 534.35" font-size="69.50">FC</text>
<text transform="translate(0 1749.30) scale(0.9300 1)" x="1428.75 1473.88 1511.32 1560.56 1577.51 1620.36" font-size="68.80">CaO:Bi</text>
<clipPath id="k14"><path clip-rule="evenodd" d="M-50,-146.4H1772.3V73.2H-50ZM815.82,-6.83H831.55V3.00H815.82ZM838.96,-6.83H852.42V3.00H838.96ZM924.97,-109.80H949.28V-50.58H924.97Z"/></clipPath>
<text transform="translate(0 2026.80) scale(0.9400 1)" x="813.62 850.34 889.86 926.97 947.35 989.74 1010.64 1029.60" font-size="73.20" clip-path="url(#k14)">100/T, K</text>
<clipPath id="k15"><path clip-rule="evenodd" d="M-50,-86.6H1669.0V43.3H-50ZM1024.58,-4.57H1033.70V3.00H1024.58ZM1038.45,-4.57H1046.23V3.00H1038.45Z"/></clipPath>
<text transform="translate(0 1988.00)" x="1009.15 1023.28" font-size="43.30" clip-path="url(#k15)">-1</text>
<text transform="translate(67.90 1158.40) rotate(-90) scale(0.9825 1)" font-size="71.80">Decay time, s</text>
</g>
</g>
</svg>
</body>
</html>
